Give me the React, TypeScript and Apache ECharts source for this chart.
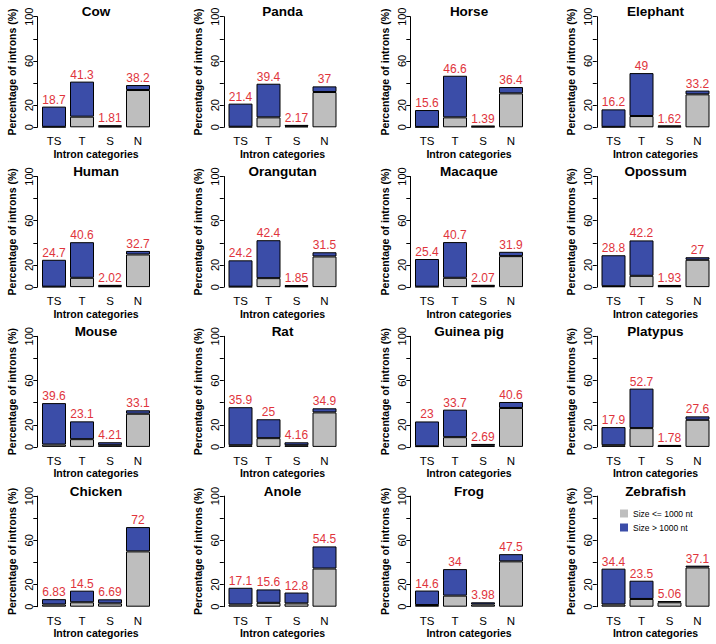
import React, { useEffect, useRef } from "react";
import * as echarts from "echarts";

const species = [
  "Cow", "Panda", "Horse", "Elephant",
  "Human", "Orangutan", "Macaque", "Opossum",
  "Mouse", "Rat", "Guinea pig", "Platypus",
  "Chicken", "Anole", "Frog", "Zebrafish",
];
const categories = ["TS", "T", "S", "N"];
const yTickLabels = [0, 20, 60, 100];

// total percentage of introns per category (red labels)
const totals = [
  [18.7, 41.3, 1.81, 38.2],
  [21.4, 39.4, 2.17, 37],
  [15.6, 46.6, 1.39, 36.4],
  [16.2, 49, 1.62, 33.2],
  [24.7, 40.6, 2.02, 32.7],
  [24.2, 42.4, 1.85, 31.5],
  [25.4, 40.7, 2.07, 31.9],
  [28.8, 42.2, 1.93, 27],
  [39.6, 23.1, 4.21, 33.1],
  [35.9, 25, 4.16, 34.9],
  [23, 33.7, 2.69, 40.6],
  [17.9, 52.7, 1.78, 27.6],
  [6.83, 14.5, 6.69, 72],
  [17.1, 15.6, 12.8, 54.5],
  [14.6, 34, 3.98, 47.5],
  [34.4, 23.5, 5.06, 37.1],
];

// share of introns with size <= 1000 nt (grey part)
const shortIntrons = [
  [0.4, 9.6, 0.8, 33.7],
  [0.5, 9.0, 0.9, 31.9],
  [0.3, 9.0, 0.6, 30.7],
  [0.4, 10.2, 0.7, 29.8],
  [0.4, 8.4, 0.8, 29.5],
  [0.4, 8.1, 0.7, 27.7],
  [0.4, 8.4, 0.8, 28.0],
  [0.8, 10.2, 0.8, 24.7],
  [2.1, 7.0, 1.5, 30.0],
  [1.5, 7.9, 1.5, 31.2],
  [0.6, 8.8, 1.0, 35.2],
  [1.5, 17.0, 0.7, 24.5],
  [2.0, 4.0, 3.0, 50.0],
  [2.0, 3.5, 3.0, 34.5],
  [1.5, 10.0, 2.0, 41.0],
  [2.0, 7.0, 4.0, 35.5],
];

const SHORT_NAME = "Size <= 1000 nt";
const LONG_NAME = "Size > 1000 nt";
const FONT = "'Liberation Sans', Arial, Helvetica, sans-serif";

export default function App() {
  const ref = useRef<HTMLDivElement>(null);

  useEffect(() => {
    if (!ref.current) return;
    const chart = echarts.init(ref.current, undefined, { renderer: "svg" });

    const axisX0 = 37.3;
    const colStep = 186.5;
    const top0 = 16.7;
    const rowStep = 159.8;
    const gridH = 110.6;
    const gridW = 112;
    const off = 2.7;

    const grids: any[] = [];
    const xAxes: any[] = [];
    const yAxes: any[] = [];
    const series: any[] = [];
    const graphics: any[] = [];

    species.forEach((sp, i) => {
      const c = i % 4;
      const r = Math.floor(i / 4);
      const left = axisX0 + c * colStep + off;
      const top = top0 + r * rowStep;
      grids.push({ left, top, width: gridW, height: gridH });
      xAxes.push({
        type: "category",
        gridIndex: i,
        data: categories,
        axisLine: { show: false },
        axisTick: { show: false },
        axisLabel: { margin: 8, fontSize: 11.5, color: "#000", fontFamily: FONT },
        name: "Intron categories",
        nameLocation: "middle",
        nameGap: 20,
        nameTextStyle: { fontSize: 10.5, fontWeight: "bold", color: "#000", fontFamily: FONT },
      });
      yAxes.push({
        type: "value",
        gridIndex: i,
        min: 0,
        max: 100,
        interval: 20,
        offset: off,
        splitLine: { show: false },
        axisLine: { show: true, lineStyle: { color: "#000", width: 1 } },
        axisTick: { show: true, length: 4, lineStyle: { color: "#000", width: 1 } },
        axisLabel: {
          rotate: 90,
          margin: 3,
          fontSize: 11,
          color: "#000",
          fontFamily: FONT,
          showMinLabel: true,
          showMaxLabel: true,
          formatter: (v: number) => (yTickLabels.includes(v) ? String(v) : ""),
        },
        name: "Percentage of introns (%)",
        nameLocation: "middle",
        nameRotate: 90,
        nameGap: 20,
        nameTextStyle: { fontSize: 10.5, fontWeight: "bold", color: "#000", fontFamily: FONT },
      });
      series.push({
        type: "bar",
        name: SHORT_NAME,
        stack: "p" + i,
        xAxisIndex: i,
        yAxisIndex: i,
        barWidth: 24,
        silent: true,
        itemStyle: { color: "#bebebe", borderColor: "#000", borderWidth: 1 },
        data: shortIntrons[i],
      });
      series.push({
        type: "bar",
        name: LONG_NAME,
        stack: "p" + i,
        xAxisIndex: i,
        yAxisIndex: i,
        barWidth: 24,
        silent: true,
        itemStyle: { color: "#3b4da8", borderColor: "#000", borderWidth: 1 },
        label: {
          show: true,
          position: "top",
          distance: 1,
          color: "#e0343c",
          fontSize: 12,
          fontFamily: FONT,
          formatter: (p: any) => String(totals[i][p.dataIndex]),
        },
        data: totals[i].map((t, k) => +(t - shortIntrons[i][k]).toFixed(3)),
      });
      graphics.push({
        type: "text",
        x: left + gridW / 2,
        y: top - 5,
        style: {
          text: sp,
          fill: "#000",
          font: `bold 13.5px ${FONT}`,
          align: "center",
          verticalAlign: "middle",
          textAlign: "center",
          textVerticalAlign: "middle",
        },
      });
    });

    chart.setOption({
      animation: false,
      backgroundColor: "#fff",
      grid: grids,
      xAxis: xAxes,
      yAxis: yAxes,
      series,
      graphic: graphics,
      legend: {
        data: [SHORT_NAME, LONG_NAME],
        orient: "vertical",
        left: 615,
        top: 504,
        itemWidth: 8,
        itemHeight: 8,
        itemGap: 5,
        icon: "rect",
        selectedMode: false,
        itemStyle: { borderWidth: 0 },
        textStyle: { fontSize: 8.5, color: "#000", fontFamily: FONT },
      },
    });

    return () => chart.dispose();
  }, []);

  return (
    <div
      ref={ref}
      style={{ position: "fixed", left: 0, top: 0, width: 716, height: 644, background: "#fff" }}
    />
  );
}
